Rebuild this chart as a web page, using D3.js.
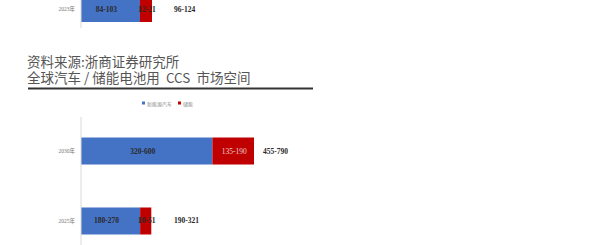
<!DOCTYPE html>
<html>
<head>
<meta charset="utf-8">
<script src="https://cdn.jsdelivr.net/npm/d3@7"></script>
<style>
  body { margin: 0; background: #fff; }
  svg { display: block; }
</style>
</head>
<body>
<script>
var w = 609;
var h = 245;

// bottom (main) chart data: range low-high, bar drawn to the high value
var categories = ["2030年", "2025年"];
var evLow = [320, 180];
var evHigh = [600, 270];
var essLow = [135, 10];
var essHigh = [190, 51];
var seriesNames = ["新能源汽车", "储能"];

// cut-off chart at top of the page (previous slide part)
var prevCategories = ["2023年"];
var prevEvLow = [84];
var prevEvHigh = [103];
var prevEssLow = [12];
var prevEssHigh = [21];

var colors = ["#4472C4", "#C00000"];

var svg = d3.select("body").append("svg")
    .attr("width", w)
    .attr("height", h);

var labelFont = "'Liberation Serif', 'Noto Sans CJK SC', serif";

//draw one horizontal stacked chart
function drawChart(cats, eLow, eHigh, sLow, sHigh, xRange, yScale) {
    var x = d3.scaleLinear()
        .domain([0, d3.max(eHigh.map(function(d, i) { return d + sHigh[i]; }))])
        .range(xRange);

    var g = svg.append("g");

    g.selectAll("rect.ev")
        .data(cats)
        .enter().append("rect")
        .attr("class", "ev")
        .attr("x", x(0))
        .attr("y", function(d) { return yScale(d); })
        .attr("width", function(d, i) { return x(eHigh[i]) - x(0); })
        .attr("height", yScale.bandwidth())
        .attr("fill", colors[0]);

    g.selectAll("rect.ess")
        .data(cats)
        .enter().append("rect")
        .attr("class", "ess")
        .attr("x", function(d, i) { return x(eHigh[i]); })
        .attr("y", function(d) { return yScale(d); })
        .attr("width", function(d, i) { return x(eHigh[i] + sHigh[i]) - x(eHigh[i]); })
        .attr("height", yScale.bandwidth())
        .attr("fill", colors[1]);

    var mid = function(d) { return yScale(d) + yScale.bandwidth() / 2 + 2.5; };

    //value labels inside bars
    g.selectAll("text.evl")
        .data(cats)
        .enter().append("text")
        .attr("class", "evl")
        .attr("x", function(d, i) { return x(eHigh[i] / 2) - 4; })
        .attr("y", mid)
        .attr("text-anchor", "middle")
        .text(function(d, i) { return eLow[i] + "-" + eHigh[i]; });

    g.selectAll("text.essl")
        .data(cats)
        .enter().append("text")
        .attr("class", "essl")
        .attr("x", function(d, i) { return x(eHigh[i] + sHigh[i] / 2) + 1; })
        .attr("y", mid)
        .attr("text-anchor", "middle")
        .text(function(d, i) { return sLow[i] + "-" + sHigh[i]; });

    //totals to the right
    g.selectAll("text.tot")
        .data(cats)
        .enter().append("text")
        .attr("class", "tot")
        .attr("x", function(d, i) { return Math.max(x(eHigh[i] + sHigh[i]) + 9, x(0) + 93); })
        .attr("y", mid)
        .text(function(d, i) { return (eLow[i] + sLow[i]) + "-" + (eHigh[i] + sHigh[i]); });

    g.selectAll("text")
        .style("font-family", labelFont)
        .style("font-size", "7.5px")
        .style("font-weight", "bold")
        .attr("fill", "#2a2a2a");

    //light label when it sits fully inside the red bar
    g.selectAll("text.essl")
        .attr("fill", function(d, i) {
            return x(eHigh[i] + sHigh[i]) - x(eHigh[i]) > 25 ? "#e6d0d0" : "#2a2a2a";
        })
        .style("font-weight", function(d, i) {
            return x(eHigh[i] + sHigh[i]) - x(eHigh[i]) > 25 ? "normal" : "bold";
        });

    //category axis
    var axis = g.append("g")
        .attr("transform", "translate(" + x(0) + ",0)")
        .call(d3.axisLeft(yScale).tickSize(0).tickPadding(6));
    axis.select(".domain").attr("stroke", "#d9d9d9");
    axis.selectAll("text")
        .style("font-family", labelFont)
        .style("font-size", "5.5px")
        .attr("fill", "#777");
    return axis;
}

//top partial chart, bar occupies y 0..22
var yPrev = d3.scaleBand().domain(prevCategories).range([-4, 22]).padding(0);
var prevAxis = drawChart(prevCategories, prevEvLow, prevEvHigh, prevEssLow, prevEssHigh, [81, 152], yPrev);
prevAxis.select(".domain").attr("d", "M0,-5V28");

//source + title as one two-line block
var head = svg.append("text")
    .attr("x", 27)
    .attr("y", 67)
    .style("font-family", "'Noto Sans CJK SC', sans-serif")
    .style("font-size", "13.5px")
    .attr("fill", "#555")
    .attr("xml:space", "preserve");

head.append("tspan")
    .attr("x", 27)
    .text("资料来源:浙商证券研究所");

head.append("tspan")
    .attr("x", 27)
    .attr("dy", 16)
    .text("全球汽车 / 储能电池用  CCS  市场空间");

svg.append("line")
    .attr("x1", 28).attr("x2", 313)
    .attr("y1", 88.5).attr("y2", 88.5)
    .attr("stroke", "#333")
    .attr("stroke-width", 2);

//main chart
var yMain = d3.scaleBand()
    .domain(categories)
    .range([117, 255])
    .paddingInner(0.614)
    .paddingOuter(0.293);
var mainAxis = drawChart(categories, evLow, evHigh, essLow, essHigh, [81, 254], yMain);
mainAxis.select(".domain").attr("d", "M0,117V250");

//legend
var legend = svg.append("g")
    .selectAll("g")
    .data(seriesNames)
    .enter().append("g")
    .attr("transform", function(d, i) { return "translate(" + (142 + i * 36) + ",104)"; });

legend.append("rect")
    .attr("x", 0).attr("y", -2.5)
    .attr("width", 3).attr("height", 3)
    .attr("fill", function(d, i) { return colors[i]; });

legend.append("text")
    .attr("x", 5).attr("y", 1.5)
    .style("font-family", "'Noto Sans CJK SC', sans-serif")
    .style("font-size", "5px")
    .attr("fill", "#888")
    .text(function(d) { return d; });
</script>
</body>
</html>
